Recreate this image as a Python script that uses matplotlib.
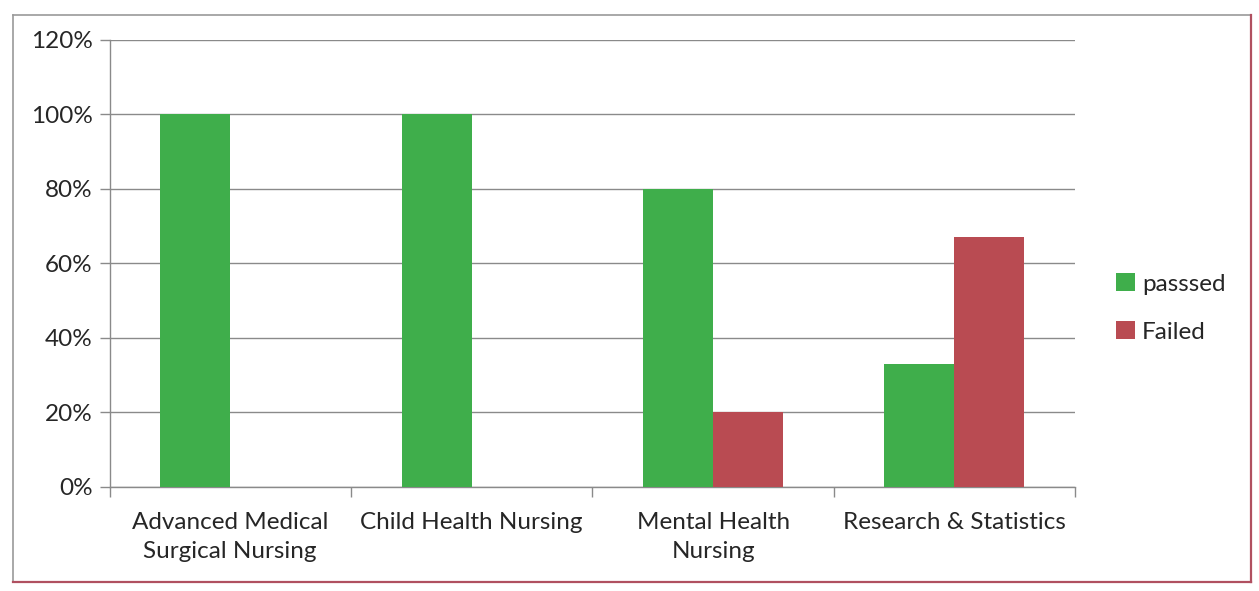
import numpy as np
import matplotlib
matplotlib.use("Agg")
import matplotlib.pyplot as plt
from matplotlib.lines import Line2D
from matplotlib.ticker import PercentFormatter, FixedLocator

plt.rcParams['font.family'] = ['Lato', 'DejaVu Sans']

# data
courses = ["Advanced Medical\nSurgical Nursing", "Child Health Nursing",
           "Mental Health\nNursing", "Research & Statistics"]
passed = [100, 100, 80, 33]
failed = [0, 0, 20, 67]

green = '#3fae4b'
red = '#b94b52'
grid_col = '#8a8a8a'
text_col = '#262626'
fs = 17.5

fig = plt.figure(figsize=(12.59, 5.91), dpi=100)
ax = fig.add_axes([0.087, 0.176, 0.767, 0.757])

x = np.arange(len(courses))
w = 0.29
ax.bar(x - w/2, passed, w, color=green, label='passsed', zorder=3)
ax.bar(x + w/2, failed, w, color=red, label='Failed', zorder=3)

ax.set_ylim(0, 120)
ax.set_xlim(-0.5, len(courses) - 0.5)
ax.set_yticks(np.arange(0, 121, 20))
ax.yaxis.set_major_formatter(PercentFormatter(decimals=0))
ax.grid(axis='y', color=grid_col, lw=1.0, zorder=0)

# category labels centred, tick marks between categories
ax.set_xticks(x)
ax.set_xticklabels(courses, fontsize=fs, color=text_col, linespacing=1.45)
ax.xaxis.set_minor_locator(FixedLocator(np.arange(-0.5, len(courses), 1.0)))
ax.tick_params(axis='x', which='major', length=0, pad=18)
ax.tick_params(axis='x', which='minor', length=7, color=grid_col, width=1)
ax.tick_params(axis='y', length=7, color=grid_col, width=1, labelsize=fs,
               labelcolor=text_col, pad=5)

for s in ['top', 'right']:
    ax.spines[s].set_visible(False)
for s in ['left', 'bottom']:
    ax.spines[s].set_color(grid_col)
    ax.spines[s].set_linewidth(1.0)

leg = ax.legend(loc='center left', bbox_to_anchor=(1.02, 0.40), frameon=False,
                fontsize=fs, handlelength=0.75, handleheight=0.75,
                handletextpad=0.3, labelspacing=1.1)
for t in leg.get_texts():
    t.set_color(text_col)

# outer chart border (grey left/top, reddish right/bottom as in the scan)
fig.add_artist(Line2D([0.010, 0.010], [0.015, 0.975], transform=fig.transFigure,
                      color='#9a9a9a', lw=1.2))
fig.add_artist(Line2D([0.010, 0.994], [0.975, 0.975], transform=fig.transFigure,
                      color='#9a9a9a', lw=1.2))
fig.add_artist(Line2D([0.994, 0.994], [0.015, 0.975], transform=fig.transFigure,
                      color='#b05060', lw=1.6))
fig.add_artist(Line2D([0.010, 0.994], [0.015, 0.015], transform=fig.transFigure,
                      color='#b05060', lw=1.6))

fig.savefig('out.png', dpi=100, facecolor='white')
